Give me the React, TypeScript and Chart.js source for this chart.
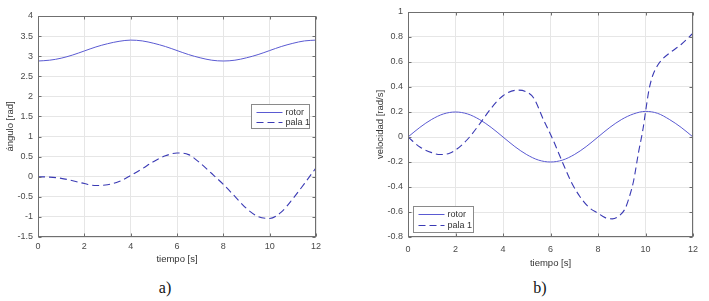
import React, { useEffect, useRef } from "react";
import { Chart, registerables } from "chart.js";

Chart.register(...registerables);

// ---------- data ----------
const timeA = [0, 0.5, 1, 1.5, 2, 2.5, 3, 3.5, 4, 4.5, 5, 5.5, 6, 6.5, 7, 7.5, 8, 8.5, 9, 9.5, 10, 10.5, 11, 11.5, 12];
const rotorAngle = [2.88, 2.9, 2.95, 3.03, 3.13, 3.23, 3.31, 3.37, 3.4, 3.38, 3.32, 3.24, 3.14, 3.04, 2.96, 2.9, 2.88, 2.9, 2.96, 3.04, 3.14, 3.24, 3.32, 3.38, 3.4];
const pala1Angle = [0, -0.01, -0.04, -0.1, -0.17, -0.22, -0.2, -0.12, 0.03, 0.2, 0.38, 0.52, 0.59, 0.55, 0.34, 0.08, -0.19, -0.49, -0.79, -0.99, -1.04, -0.88, -0.55, -0.17, 0.22];

const rotorVelocity = [0, 0.077, 0.141, 0.185, 0.2, 0.185, 0.141, 0.077, 0, -0.077, -0.141, -0.185, -0.2, -0.185, -0.141, -0.077, 0, 0.077, 0.141, 0.185, 0.205, 0.19, 0.141, 0.077, 0];
const timePalaVel = [0, 0.5, 1, 1.35, 1.75, 2, 2.5, 3, 3.5, 4, 4.6, 5, 5.3, 5.7, 6.1, 6.5, 6.9, 7.25, 7.6, 8, 8.3, 8.6, 8.9, 9.15, 9.35, 9.5, 9.7, 9.9, 10, 10.15, 10.3, 10.5, 10.7, 11, 11.5, 12];
const pala1Velocity = [0, -0.08, -0.125, -0.14, -0.13, -0.105, -0.02, 0.1, 0.23, 0.33, 0.375, 0.36, 0.31, 0.14, -0.02, -0.2, -0.37, -0.48, -0.56, -0.61, -0.645, -0.655, -0.63, -0.57, -0.46, -0.35, -0.13, 0.07, 0.2, 0.38, 0.49, 0.57, 0.62, 0.67, 0.74, 0.83];

const timeTicks = [0, 2, 4, 6, 8, 10, 12];
const angleTicks = [-1.5, -1, -0.5, 0, 0.5, 1, 1.5, 2, 2.5, 3, 3.5, 4];
const velTicks = [-0.8, -0.6, -0.4, -0.2, 0, 0.2, 0.4, 0.6, 0.8, 1];

const seriesNames = ["rotor", "pala 1"];
const xTitle = "tiempo [s]";
const yTitleA = "ángulo [rad]";
const yTitleB = "velocidad [rad/s]";

// ---------- styles ----------
const FONT = "'Liberation Sans', Arial, sans-serif";
const ROTOR_COLOR = "#5a5ad2";
const PALA_COLOR = "#3a3ab4";

const fmt = (v: any) => String(Number(v));

const matlabPlugin = {
  id: "matlabBox",
  afterDraw(chart: any, _args: any, opts: any) {
    const { ctx, chartArea: a, scales } = chart;
    ctx.save();
    const L = Math.round(a.left) + 0.5;
    const R = Math.round(a.right) - 0.5;
    const T = Math.round(a.top) + 0.5;
    const B = Math.round(a.bottom) - 0.5;
    ctx.strokeStyle = "#6f6f6f";
    ctx.lineWidth = 1;
    ctx.setLineDash([]);
    ctx.beginPath();
    const tl = 3;
    for (const v of opts.xTicks) {
      const x = Math.round(scales.x.getPixelForValue(v)) + 0.5;
      ctx.moveTo(x, B);
      ctx.lineTo(x, B - tl);
      ctx.moveTo(x, T);
      ctx.lineTo(x, T + tl);
    }
    for (const v of opts.yTicks) {
      const y = Math.round(scales.y.getPixelForValue(v)) + 0.5;
      ctx.moveTo(L, y);
      ctx.lineTo(L + tl, y);
      ctx.moveTo(R, y);
      ctx.lineTo(R - tl, y);
    }
    ctx.stroke();
    ctx.strokeRect(L, T, R - L, B - T);

    // legend box
    const bx = Math.round(a.left + opts.box.left) + 0.5;
    const by = Math.round(a.top + opts.box.top) + 0.5;
    const bw = opts.box.width;
    const bh = opts.box.height;
    ctx.fillStyle = "#ffffff";
    ctx.fillRect(bx, by, bw, bh);
    ctx.strokeStyle = "#8a8a8a";
    ctx.strokeRect(bx, by, bw, bh);
    ctx.font = `9px ${FONT}`;
    ctx.textBaseline = "middle";
    ctx.textAlign = "left";
    chart.data.datasets.forEach((ds: any, i: number) => {
      const y = Math.round(by + bh * (0.3 + 0.42 * i)) + 0.5;
      ctx.strokeStyle = ds.borderColor;
      ctx.lineWidth = ds.borderWidth;
      ctx.setLineDash(ds.borderDash || []);
      ctx.beginPath();
      ctx.moveTo(bx + 5, y);
      ctx.lineTo(bx + 31, y);
      ctx.stroke();
      ctx.fillStyle = "#333333";
      ctx.fillText(ds.label, bx + 34, y);
    });
    ctx.restore();
  },
};

function makeConfig(opts: {
  datasets: any[];
  yTicks: number[];
  yMin: number;
  yMax: number;
  yTitle: string;
  yWidth: number;
  yTitlePad: number;
  xHeight: number;
  xTickPad: number;
  xTitlePad: number;
  padTop: number;
  padRight: number;
  box: any;
}): any {
  return {
    type: "line",
    data: { datasets: opts.datasets },
    options: {
      animation: false,
      responsive: false,
      maintainAspectRatio: false,
      layout: { padding: { top: opts.padTop, right: opts.padRight, left: 0, bottom: 0 } },
      plugins: {
        legend: { display: false },
        tooltip: { enabled: false },
        matlabBox: { xTicks: timeTicks, yTicks: opts.yTicks, box: opts.box },
      },
      elements: { point: { radius: 0 } },
      scales: {
        x: {
          type: "linear",
          min: 0,
          max: 12,
          afterBuildTicks: (s: any) => {
            s.ticks = timeTicks.map((v) => ({ value: v }));
          },
          afterFit: (s: any) => {
            s.height = opts.xHeight;
          },
          grid: { color: "#e6e6e6", drawTicks: false },
          border: { display: false },
          ticks: { color: "#4a4a4a", font: { size: 9, family: FONT }, padding: opts.xTickPad, maxRotation: 0, callback: fmt },
          title: {
            display: true,
            text: xTitle,
            color: "#333333",
            font: { size: 9.5, family: FONT },
            padding: { top: 0, bottom: opts.xTitlePad },
          },
        },
        y: {
          type: "linear",
          min: opts.yMin,
          max: opts.yMax,
          afterBuildTicks: (s: any) => {
            s.ticks = opts.yTicks.map((v) => ({ value: v }));
          },
          afterFit: (s: any) => {
            s.width = opts.yWidth;
          },
          grid: { color: "#e6e6e6", drawTicks: false },
          border: { display: false },
          ticks: { color: "#4a4a4a", font: { size: 9, family: FONT }, padding: 5, callback: fmt },
          title: {
            display: true,
            text: opts.yTitle,
            color: "#333333",
            font: { size: 9.5, family: FONT },
            padding: { top: opts.yTitlePad, bottom: 0 },
          },
        },
      },
    },
    plugins: [matlabPlugin],
  };
}

function ChartCanvas(props: { config: () => any; style: React.CSSProperties; width: number; height: number }) {
  const ref = useRef<HTMLCanvasElement | null>(null);
  useEffect(() => {
    if (!ref.current) return;
    const chart = new Chart(ref.current, props.config());
    return () => chart.destroy();
  }, []);
  return <canvas ref={ref} width={props.width} height={props.height} style={{ position: "absolute", ...props.style, width: props.width, height: props.height }} />;
}

const configA = () =>
  makeConfig({
    datasets: [
      {
        label: seriesNames[0],
        data: timeA.map((t, i) => ({ x: t, y: rotorAngle[i] })),
        borderColor: ROTOR_COLOR,
        borderWidth: 1,
        cubicInterpolationMode: "monotone",
      },
      {
        label: seriesNames[1],
        data: timeA.map((t, i) => ({ x: t, y: pala1Angle[i] })),
        borderColor: PALA_COLOR,
        borderWidth: 1.1,
        borderDash: [7, 4],
        cubicInterpolationMode: "monotone",
      },
    ],
    yTicks: angleTicks,
    yMin: -1.5,
    yMax: 4,
    yTitle: yTitleA,
    yWidth: 38,
    yTitlePad: 5,
    xHeight: 33,
    xTickPad: 4,
    xTitlePad: 5,
    padTop: 16,
    padRight: 19,
    box: { left: 213, top: 88, width: 58, height: 24 },
  });

const configB = () =>
  makeConfig({
    datasets: [
      {
        label: seriesNames[0],
        data: timeA.map((t, i) => ({ x: t, y: rotorVelocity[i] })),
        borderColor: ROTOR_COLOR,
        borderWidth: 1,
        cubicInterpolationMode: "monotone",
      },
      {
        label: seriesNames[1],
        data: timePalaVel.map((t, i) => ({ x: t, y: pala1Velocity[i] })),
        borderColor: PALA_COLOR,
        borderWidth: 1.1,
        borderDash: [7, 4],
        cubicInterpolationMode: "monotone",
      },
    ],
    yTicks: velTicks,
    yMin: -0.8,
    yMax: 1,
    yTitle: yTitleB,
    yWidth: 53,
    yTitlePad: 20,
    xHeight: 33,
    xTickPad: 7,
    xTitlePad: 1,
    padTop: 12,
    padRight: 16,
    box: { left: 5, top: 194, width: 60, height: 26 },
  });

export default function App() {
  return (
    <div style={{ position: "absolute", left: 0, top: 0, width: 709, height: 301, background: "#ffffff", overflow: "hidden" }}>
      <ChartCanvas config={configA} width={335} height={270} style={{ left: 0, top: 0 }} />
      <ChartCanvas config={configB} width={354} height={270} style={{ left: 355, top: 0 }} />
      <div style={{ position: "absolute", left: 145, width: 40, top: 279, textAlign: "center", font: "16px 'Liberation Serif', 'Times New Roman', serif", lineHeight: "18px", color: "#111" }}>a)</div>
      <div style={{ position: "absolute", left: 520, width: 40, top: 279, textAlign: "center", font: "16px 'Liberation Serif', 'Times New Roman', serif", lineHeight: "18px", color: "#111" }}>b)</div>
    </div>
  );
}
